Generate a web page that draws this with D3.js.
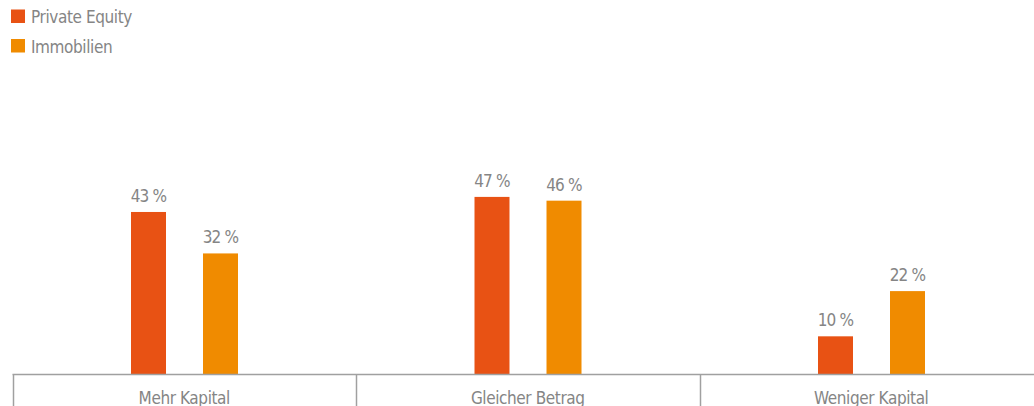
<!DOCTYPE html>
<html><head><meta charset="utf-8">
<script src="https://cdn.jsdelivr.net/npm/d3@7"></script>
<style>
html,body{margin:0;padding:0;background:#fff;}
svg{display:block;font-family:"DejaVu Sans Condensed","Liberation Sans Narrow",sans-serif;}
</style></head>
<body>
<svg id="chart" width="1034" height="406"></svg>
<script>
const categories = ["Mehr Kapital", "Gleicher Betrag", "Weniger Kapital"];
const seriesNames = ["Private Equity", "Immobilien"];
const privateEquity = [43, 47, 10];
const immobilien = [32, 46, 22];
const colors = ["#E85214", "#F08B00"];

const values = [privateEquity, immobilien];
const svg = d3.select("#chart");
const baseY = 374;
const textColor = "#858585";
const axisColor = "#a0a0a0";
const fs = 17;
const ls = "-0.4px";

const x = d3.scaleBand().domain(categories).range([12.5, 1043]).paddingInner(0).paddingOuter(0);
const x1 = d3.scaleBand().domain(seriesNames).range([118.5, 225.5]).paddingInner(0.514).paddingOuter(0);
const y = d3.scaleLinear().domain([0, 50]).range([baseY, baseY - 188.4]);

const data = [];
categories.forEach((c, i) => seriesNames.forEach((s, j) => data.push({c, s, j, v: values[j][i]})));

const g = svg.append("g");
g.selectAll("rect.bar").data(data).enter().append("rect")
  .attr("class", "bar")
  .attr("x", d => x(d.c) + x1(d.s))
  .attr("width", x1.bandwidth())
  .attr("y", d => y(d.v))
  .attr("height", d => y(0) - y(d.v))
  .attr("fill", d => colors[d.j]);

g.selectAll("text.val").data(data).enter().append("text")
  .attr("class", "val")
  .attr("x", d => x(d.c) + x1(d.s) + x1.bandwidth() / 2)
  .attr("y", d => y(d.v) - 10)
  .attr("text-anchor", "middle")
  .attr("font-size", fs)
  .attr("letter-spacing", "-0.8px")
  .attr("fill", textColor)
  .text(d => d.v + " %");

// axis
const axisG = svg.append("g").attr("transform", `translate(0,${baseY + 0.5})`);
axisG.append("line").attr("x1", 12.5).attr("x2", 1043).attr("y1", 0).attr("y2", 0)
  .attr("stroke", axisColor).attr("stroke-width", 1.5);
const bounds = categories.map(c => x(c)).concat([x.range()[1]]);
axisG.selectAll("line.tick").data(bounds).enter().append("line")
  .attr("class", "tick")
  .attr("x1", d => Math.round(d) + 0.5).attr("x2", d => Math.round(d) + 0.5)
  .attr("y1", 0).attr("y2", 32)
  .attr("stroke", axisColor).attr("stroke-width", 1.5);
axisG.selectAll("text.cat").data(categories).enter().append("text")
  .attr("class", "cat")
  .attr("x", d => x(d) + x.bandwidth() / 2)
  .attr("y", 29)
  .attr("text-anchor", "middle")
  .attr("font-size", fs)
  .attr("letter-spacing", ls)
  .attr("fill", textColor)
  .text(d => d);

// legend
const leg = svg.append("g");
seriesNames.forEach((s, j) => {
  leg.append("rect").attr("x", 11).attr("y", 9.5 + j * 29.5).attr("width", 14).attr("height", 13.5).attr("fill", colors[j]);
  leg.append("text").attr("x", 31).attr("y", 23 + j * 29.5).attr("font-size", fs).attr("letter-spacing", ls).attr("fill", textColor).text(s);
});
</script>
</body></html>
